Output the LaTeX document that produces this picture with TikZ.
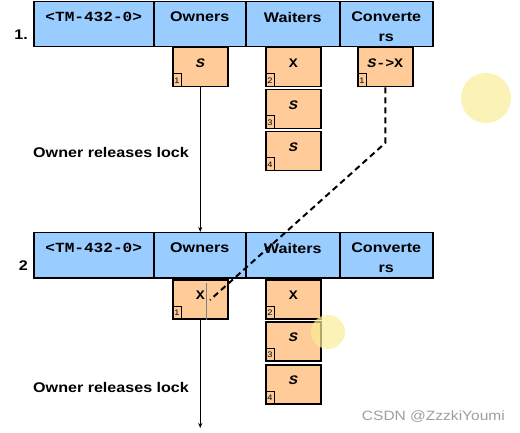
\documentclass[tikz,border=0pt]{standalone}
\usepackage{fontspec}
\newfontfamily\hdrfont[FakeStretch=1.15]{Liberation Sans}
\newfontfamily\codefont[FakeStretch=1.15]{Liberation Mono}
\usetikzlibrary{positioning,arrows.meta}
\definecolor{hdrblue}{RGB}{153,204,255}
\definecolor{lockorange}{RGB}{255,204,153}
\definecolor{cursorhl}{RGB}{250,238,150}
\tikzset{
  hdr/.style={draw, line width=1.5pt, fill=hdrblue, anchor=north west, minimum height=45pt, inner sep=0pt},
  hdrtxt/.style={font=\hdrfont\bfseries\fontsize{14}{20}\selectfont, align=center, inner sep=0pt},
  lock/.style={draw, line width=1.5pt, fill=lockorange, anchor=north west, minimum width=55pt, minimum height=39pt,
    inner sep=0pt, text height=9pt, text depth=9pt, font=\codefont\bfseries\fontsize{13}{15}\selectfont},
  tag/.style={draw, line width=1pt, anchor=south west, minimum width=9pt, minimum height=13pt, inner sep=0pt,
    font=\hdrfont\fontsize{8}{8}\selectfont},
  rownum/.style={font=\hdrfont\bfseries\fontsize{14}{16}\selectfont, anchor=east, inner sep=0pt},
  note/.style={font=\hdrfont\bfseries\fontsize{14}{16}\selectfont, anchor=west, inner sep=0pt},
  hl/.style={fill=cursorhl, draw=none, opacity=0.7}
}
\begin{document}
\begin{tikzpicture}[x=1pt,y=1pt]
        \fill[white] (0,0) rectangle (520,-433);
        \useasboundingbox (0,0) rectangle (520,-433);

        % lock headers
        \foreach \r/\top/\num in {1/-1/1., 2/-232/2} {
            \node[hdr, minimum width=120pt] (tm\r) at (33,\top) {};
            \node[hdr, minimum width=92pt] (own\r) at (153,\top) {};
            \node[hdr, minimum width=94pt] (wait\r) at (245,\top) {};
            \node[hdr, minimum width=93pt] (conv\r) at (339,\top) {};
            \node[hdrtxt, below=11pt of tm\r.north] (tmtxt\r) {\codefont <TM-432-0>};
            \node[hdrtxt, below=11pt of own\r.north] (owntxt\r) {Owners};
            \node[hdrtxt, below=11pt of wait\r.north] (waittxt\r) {Waiters};
            \node[hdrtxt, below=11pt of conv\r.north] (convtxt\r) {Converte\\rs};
            \node[rownum] (num\r) at (28,\top-34) {\num};
        }

        % step 1
        \node[lock] (o1) at (172,-47) {\itshape S};
        \node[lock] (w1a) at (265,-47) {X};
        \node[lock, below=1.5pt of w1a.south west, anchor=north west] (w1b) {\itshape S};
        \node[lock, below=1.5pt of w1b.south west, anchor=north west] (w1c) {\itshape S};
        \node[lock] (c1) at (357,-47) {{\itshape S}->X};
        \node[tag] (t1o) at (o1.south west) {1};
        \node[tag] (t1a) at (w1a.south west) {2};
        \node[tag] (t1b) at (w1b.south west) {3};
        \node[tag] (t1c) at (w1c.south west) {4};
        \node[tag] (t1d) at (c1.south west) {1};
        \node[note] (rel1) at (33,-152) {Owner releases lock};

        % step 2
        \node[lock] (o2) at (172,-279) {X};
        \node[lock] (w2a) at (265,-279) {X};
        \node[lock, below=1.5pt of w2a.south west, anchor=north west] (w2b) {\itshape S};
        \node[lock, below=2.5pt of w2b.south west, anchor=north west] (w2c) {\itshape S};
        \node[tag] (t2o) at (o2.south west) {1};
        \node[tag] (t2a) at (w2a.south west) {2};
        \node[tag] (t2b) at (w2b.south west) {3};
        \node[tag] (t2c) at (w2c.south west) {4};
        \node[note] (rel2) at (33,-387) {Owner releases lock};
        \draw[gray, thin] ([xshift=5.5pt,yshift=-4pt]o2.north) -- ([xshift=5.5pt]o2.south);

        % connectors
        \coordinate (bend) at (386,-143);
        \coordinate (dashend) at (210,-300);
        \coordinate (bottom) at (199.5,-428);
        \draw[line width=1.2pt, -{Stealth[length=5pt,width=4pt]}] (o1.south) -- (o1.south |- own2.north);
        \draw[line width=1.2pt, -{Stealth[length=5pt,width=4pt]}] (o2.south) -- (o2.south |- bottom);
        \draw[line width=2pt, dash pattern=on 6pt off 4pt] (c1.south) -- (c1.south |- bend) -- (dashend);

        % cursor highlights
        \fill[hl] (486,-98) circle (25);
        \fill[hl] (328,-332) circle (17);
        \node[font=\hdrfont\fontsize{13.5}{14}\selectfont, text=gray!75, anchor=east, inner sep=0pt] (mark) at (505,-417) {CSDN @ZzzkiYoumi};
    \end{tikzpicture}
\end{document}
